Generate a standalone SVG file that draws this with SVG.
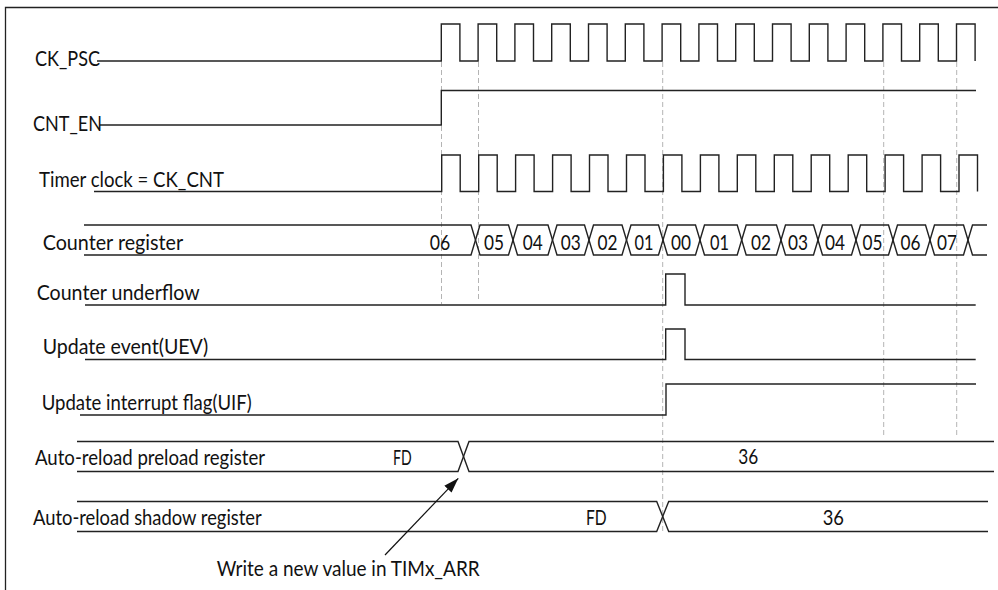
<svg xmlns="http://www.w3.org/2000/svg" width="998" height="590" viewBox="0 0 998 590">
<style>
.bg{fill:#ffffff}
.frame{fill:none;stroke:#222;stroke-width:1.3}
.w{fill:none;stroke:#222;stroke-width:1.4;stroke-linejoin:miter}
.guide{fill:none;stroke:#b4b4b4;stroke-width:1;stroke-dasharray:5 3}
.t{font-family:"Lato","Liberation Sans",Arial,sans-serif;font-size:21px;fill:#111}
.v{font-family:"Lato","Liberation Sans",Arial,sans-serif;font-size:21px;fill:#111;text-anchor:middle}
.arrow{fill:none;stroke:#111;stroke-width:1.2}
</style>
<defs>
<marker id="ah" viewBox="0 0 15 10" refX="15" refY="5" markerWidth="15" markerHeight="10" markerUnits="userSpaceOnUse" orient="auto">
<path d="M0,0 L15,5 L0,10 z" fill="#111"/>
</marker>
</defs>
<rect class="bg" x="0" y="0" width="998" height="590"/>
<path class="frame" d="M5.5,590 V7.5 H998"/>

<g id="guides">
<line class="guide" x1="441.5" y1="62" x2="441.5" y2="304"/>
<line class="guide" x1="478.5" y1="62" x2="478.5" y2="302"/>
<line class="guide" x1="662.7" y1="62" x2="662.7" y2="534"/>
<line class="guide" x1="883.7" y1="62" x2="883.7" y2="435"/>
<line class="guide" x1="956.7" y1="62" x2="956.7" y2="435"/>
</g>

<g id="ck_psc">
<path class="w" d="M97,61 H441.3 V24 H459.9 V61 H478.1 V24 H496.7 V61 H514.9 V24 H533.5 V61 H551.7 V24 H570.3 V61 H588.5 V24 H607.1 V61 H625.3 V24 H643.9 V61 H662.1 V24 H680.7 V61 H698.9 V24 H717.5 V61 H735.7 V24 H754.3 V61 H772.5 V24 H791.1 V61 H809.3 V24 H827.9 V61 H846.1 V24 H864.7 V61 H882.9 V24 H901.5 V61 H919.7 V24 H938.3 V61 H956.5 V24 H975.1 V61"/>
<text class="t" x="35" y="66" textLength="65" lengthAdjust="spacingAndGlyphs">CK_PSC</text>
</g>

<g id="cnt_en">
<path class="w" d="M100,125 H441.3 V90.5 H976"/>
<text class="t" x="33" y="131" textLength="69" lengthAdjust="spacingAndGlyphs">CNT_EN</text>
</g>

<g id="ck_cnt">
<path class="w" d="M94,191.5 H441.7 V155 H460.2 V191.5 H478.7 V155 H497.2 V191.5 H515.6 V155 H534.1 V191.5 H552.6 V155 H571.1 V191.5 H589.5 V155 H608 V191.5 H626.5 V155 H645 V191.5 H663.4 V155 H681.9 V191.5 H700.4 V155 H718.9 V191.5 H737.3 V155 H755.8 V191.5 H774.3 V155 H792.8 V191.5 H811.2 V155 H829.7 V191.5 H848.2 V155 H866.7 V191.5 H885.1 V155 H903.6 V191.5 H922.1 V155 H940.6 V191.5 H959 V155 H977.5 V191.5"/>
<text class="t" x="39" y="187" textLength="185" lengthAdjust="spacingAndGlyphs">Timer clock = CK_CNT</text>
</g>

<g id="counter_register">
<path class="w" d="M84,225 H471 L480,255 H508.5 L517.5,225 H548 L557,255 H584.5 L593.5,225 H622 L631,255 H658.5 L667.5,225 H695.5 L704.5,255 H737.2 L746.2,225 H776.5 L785.5,255 H813.5 L822.5,225 H851.5 L860.5,255 H888.5 L897.5,225 H925.5 L934.5,255 H963.5 L972.5,225 H987"/>
<path class="w" d="M84,255 H471 L480,225 H508.5 L517.5,255 H548 L557,225 H584.5 L593.5,255 H622 L631,225 H658.5 L667.5,255 H695.5 L704.5,225 H737.2 L746.2,255 H776.5 L785.5,225 H813.5 L822.5,255 H851.5 L860.5,225 H888.5 L897.5,255 H925.5 L934.5,225 H963.5 L972.5,255 H987"/>
<text class="t" x="42.7" y="249.5" textLength="140.5" lengthAdjust="spacingAndGlyphs">Counter register</text>
<text class="v" x="440" y="250" textLength="20.5" lengthAdjust="spacingAndGlyphs">06</text>
<text class="v" x="494" y="250" textLength="20" lengthAdjust="spacingAndGlyphs">05</text>
<text class="v" x="532.7" y="250" textLength="20" lengthAdjust="spacingAndGlyphs">04</text>
<text class="v" x="570.7" y="250" textLength="20" lengthAdjust="spacingAndGlyphs">03</text>
<text class="v" x="607.5" y="250" textLength="20" lengthAdjust="spacingAndGlyphs">02</text>
<text class="v" x="644" y="250" textLength="19" lengthAdjust="spacingAndGlyphs">01</text>
<text class="v" x="681" y="250" textLength="20" lengthAdjust="spacingAndGlyphs">00</text>
<text class="v" x="719.5" y="250" textLength="19" lengthAdjust="spacingAndGlyphs">01</text>
<text class="v" x="761" y="250" textLength="20" lengthAdjust="spacingAndGlyphs">02</text>
<text class="v" x="798" y="250" textLength="20" lengthAdjust="spacingAndGlyphs">03</text>
<text class="v" x="835" y="250" textLength="20" lengthAdjust="spacingAndGlyphs">04</text>
<text class="v" x="872.5" y="250" textLength="20" lengthAdjust="spacingAndGlyphs">05</text>
<text class="v" x="910.5" y="250" textLength="20" lengthAdjust="spacingAndGlyphs">06</text>
<text class="v" x="947" y="250" textLength="20" lengthAdjust="spacingAndGlyphs">07</text>
</g>

<g id="counter_underflow">
<path class="w" d="M85,305 H665.7 V274 H685 V305 H975.7"/>
<text class="t" x="36.7" y="299.5" textLength="163" lengthAdjust="spacingAndGlyphs">Counter underflow</text>
</g>

<g id="update_event">
<path class="w" d="M85,359.5 H665.7 V329 H685 V359.5 H975.7"/>
<text class="t" x="42.7" y="353.5" textLength="165.5" lengthAdjust="spacingAndGlyphs">Update event(UEV)</text>
</g>

<g id="uif">
<path class="w" d="M80,415 H666 V384 H976"/>
<text class="t" x="41.7" y="409.5" textLength="210" lengthAdjust="spacingAndGlyphs">Update interrupt flag(UIF)</text>
</g>

<g id="preload">
<path class="w" d="M77,441.5 H458 L469,471.5 H994"/>
<path class="w" d="M77,471.5 H458 L469,441.5 H994"/>
<text class="t" x="35" y="465" textLength="230" lengthAdjust="spacingAndGlyphs">Auto-reload preload register</text>
<text class="t" x="393" y="465" textLength="18.7" lengthAdjust="spacingAndGlyphs">FD</text>
<text class="t" x="738.3" y="463.5" textLength="20" lengthAdjust="spacingAndGlyphs">36</text>
</g>

<g id="shadow">
<path class="w" d="M77,501.5 H656.7 L668.7,531.5 H988"/>
<path class="w" d="M77,531.5 H656.7 L668.7,501.5 H988"/>
<text class="t" x="33" y="525" textLength="228.7" lengthAdjust="spacingAndGlyphs">Auto-reload shadow register</text>
<text class="t" x="586" y="524.5" textLength="20.7" lengthAdjust="spacingAndGlyphs">FD</text>
<text class="t" x="822.7" y="524.5" textLength="21.3" lengthAdjust="spacingAndGlyphs">36</text>
</g>

<g id="note">
<text class="t" x="216.7" y="576" textLength="263" lengthAdjust="spacingAndGlyphs">Write a new value in TIMx_ARR</text>
</g>

<g id="connectors">
<line class="arrow" x1="385" y1="555" x2="458.3" y2="478.3" marker-end="url(#ah)"/>
</g>
</svg>
